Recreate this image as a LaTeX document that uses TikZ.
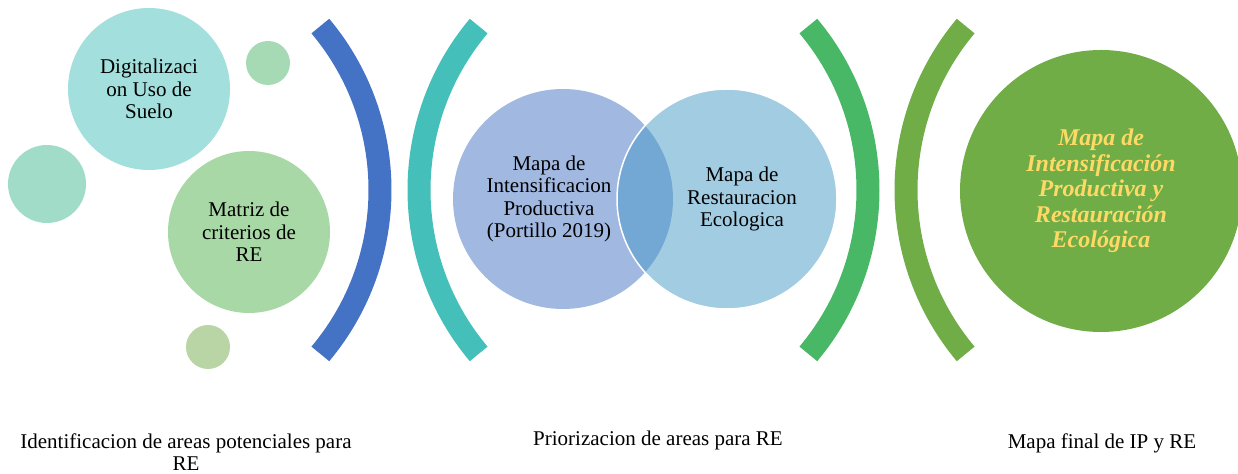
\documentclass[tikz,border=0pt]{standalone}
\usepackage{fontspec}
\setmainfont{Liberation Serif}
\usepackage{tikz}
\usetikzlibrary{calc}

\definecolor{arcBlue}{RGB}{68,114,196}
\definecolor{arcTeal}{RGB}{69,191,185}
\definecolor{arcGreen}{RGB}{72,183,102}
\definecolor{arcOlive}{RGB}{112,173,71}
\definecolor{tealLight}{RGB}{162,223,221}
\definecolor{mintLight}{RGB}{161,220,200}
\definecolor{greenLight}{RGB}{166,218,180}
\definecolor{leafLight}{RGB}{168,216,166}
\definecolor{oliveLight}{RGB}{185,213,166}
\definecolor{vennBlue}{RGB}{68,114,196}
\definecolor{vennSky}{RGB}{68,154,196}
\definecolor{titleGold}{RGB}{255,217,102}

\tikzset{
	bubble/.style = {circle, inner sep = 0pt, outer sep = 0pt, minimum size = #1},
	bubbletext/.style = {align = center, inner sep = 0pt, font = \fontsize{21bp}{22.5bp}\selectfont},
	bracket/.style = {line width = 23bp},
}

\begin{document}
\begin{tikzpicture}[x = 1bp, y = 1bp]
		\def\R{255};

		\useasboundingbox (0,0) rectangle (1238,474);

		% first stage
		\node (dig) [bubble = 162bp, fill = tealLight] at (149,385) {};
		\node (dot1) [bubble = 44bp, fill = greenLight] at (268,411) {};
		\node (dot2) [bubble = 78bp, fill = mintLight] at (47,290) {};
		\node (mat) [bubble = 162bp, fill = leafLight] at (249,242) {};
		\node (dot3) [bubble = 44bp, fill = oliveLight] at (208,127) {};

		\node (digtext) [bubbletext] at (dig.center) {Digitalizaci\\on Uso de\\Suelo};
		\node (mattext) [bubbletext] at (mat.center) {Matriz de\\criterios de\\RE};

		\coordinate (C1) at (125,284);
		\draw [bracket, arcBlue] ($ (C1) + (-40:\R) $) arc [start angle = -40, end angle = 40, radius = \R];

		% second stage
		\coordinate (C2) at (674,284);
		\draw [bracket, arcTeal] ($ (C2) + (140:\R) $) arc [start angle = 140, end angle = 220, radius = \R];

		\node (vennL) [bubble = 220bp, fill = vennBlue, fill opacity = 0.5] at (563,275) {};
		\node (vennR) [bubble = 220bp, fill = vennSky, fill opacity = 0.5, draw = white, line width = 1.5bp] at (727,275) {};

		\node (ipmap) [bubbletext] at ($ (vennL.center) + (-14,0) $) {Mapa de\\Intensificacion\\Productiva\\(Portillo 2019)};
		\node (remap) [bubbletext] at ($ (vennR.center) + (15,0) $) {Mapa de\\Restauracion\\Ecologica};

		\coordinate (C3) at (613,284);
		\draw [bracket, arcGreen] ($ (C3) + (-40:\R) $) arc [start angle = -40, end angle = 40, radius = \R];

		% third stage
		\coordinate (C4) at (1161,284);
		\draw [bracket, arcOlive] ($ (C4) + (140:\R) $) arc [start angle = 140, end angle = 220, radius = \R];

		\node (final) [bubble = 282bp, fill = arcOlive] at (1101,283) {};
		\node (finaltext) [align = center, inner sep = 0pt, text = titleGold, font = \fontsize{24bp}{25.5bp}\selectfont\bfseries\itshape] at (final.center) {Mapa de\\Intensificación\\Productiva y\\Restauración\\Ecológica};

		% captions
		\node (cap1) [bubbletext] at (186,22) {Identificacion de areas potenciales para\\RE};
		\node (cap2) [bubbletext] at (658,34) {Priorizacion de areas para RE};
		\node (cap3) [bubbletext] at (1102,31) {Mapa final de IP y RE};
	\end{tikzpicture}
\end{document}
